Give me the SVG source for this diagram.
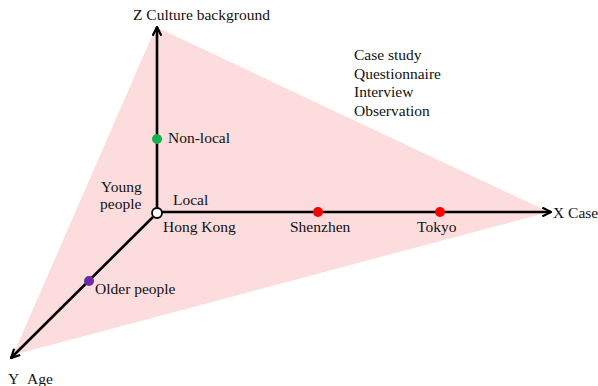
<svg xmlns="http://www.w3.org/2000/svg" width="598" height="386" viewBox="0 0 598 386">
<style>
text{font-family:'Liberation Serif','Times New Roman',Times,serif;font-size:15.5px;fill:#111}
.ax{stroke:#000;stroke-width:2.6;fill:none}
</style>
<defs>
<marker id="ah" viewBox="0 0 10 10" refX="9" refY="5" markerWidth="4.2" markerHeight="4.2" orient="auto" markerUnits="strokeWidth">
<path d="M1,1 L9,5 L1,9" fill="none" stroke="#000" stroke-width="2"/>
</marker>
</defs>
<rect width="598" height="386" fill="#fff"/>
<polygon id="plane" points="156,27 549,212 13,355" fill="#fcdcdc"/>
<g id="connectors">
<line class="ax" x1="157" y1="208" x2="157" y2="27" marker-end="url(#ah)"/>
<line class="ax" x1="162" y1="212" x2="551" y2="212" marker-end="url(#ah)"/>
<line class="ax" x1="153" y1="217" x2="11" y2="358" marker-end="url(#ah)"/>
</g>
<g id="axis-z"><text x="133" y="20">Z Culture background</text></g>
<g id="axis-x"><text x="553" y="218">X Case</text></g>
<g id="axis-y"><text x="8" y="384">Y</text><text x="27" y="384">Age</text></g>
<g id="origin">
<circle cx="157" cy="213" r="5" fill="#fff" stroke="#000" stroke-width="1.8"/>
<text x="163" y="232">Hong Kong</text>
<text x="173" y="205">Local</text>
<text x="101" y="192">Young</text>
<text x="100" y="209">people</text>
</g>
<g id="non-local"><circle cx="157" cy="139" r="5" fill="#13b24a"/><text x="168" y="143">Non-local</text></g>
<g id="shenzhen"><circle cx="318" cy="212" r="5" fill="#f00"/><text x="290" y="232">Shenzhen</text></g>
<g id="tokyo"><circle cx="440" cy="212" r="5" fill="#f00"/><text x="417" y="232">Tokyo</text></g>
<g id="older"><circle cx="89" cy="281" r="5" fill="#6a2aa6"/><text x="95" y="294">Older people</text></g>
<g id="methods">
<text x="354" y="60">Case study</text>
<text x="354" y="79">Questionnaire</text>
<text x="354" y="97">Interview</text>
<text x="354" y="116">Observation</text>
</g>
</svg>
